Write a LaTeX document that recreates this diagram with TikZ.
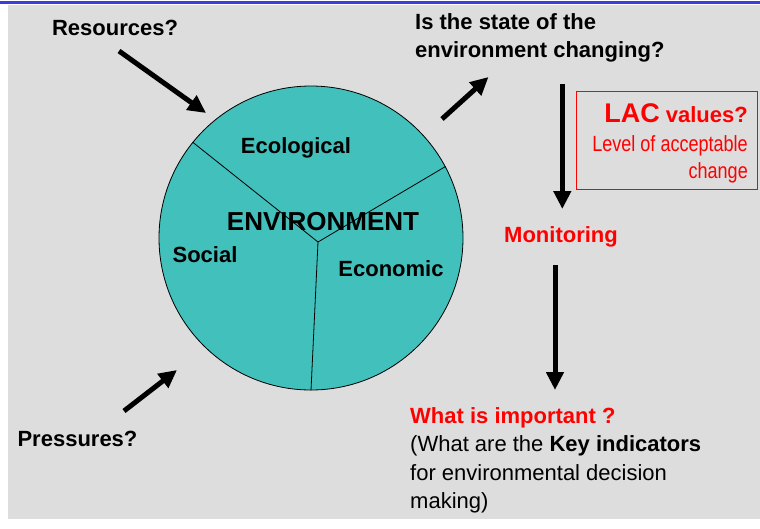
\documentclass[tikz,border=0pt]{standalone}
\usepackage{fontspec}
\setmainfont{Liberation Sans}
\newfontfamily\narrowfont[FakeStretch=0.82]{Liberation Sans}
\usetikzlibrary{arrows.meta}
\definecolor{bgrey}{HTML}{DDDDDD}
\definecolor{teal1}{HTML}{41C0BC}
\definecolor{topblue}{HTML}{3C3CDC}
\tikzset{
  bigarrow/.style={line width=5pt,-{Triangle[length=18pt,width=17pt]}},
  lbl/.style={inner sep=0pt,font=\fontsize{22}{28.3}\selectfont\bfseries},
  plain/.style={inner sep=0pt,font=\fontsize{22}{28.3}\selectfont}
}
\begin{document}
\begin{tikzpicture}[x=1pt,y=-1pt]
\useasboundingbox (0,0) rectangle (760,528);
\fill[white] (0,0) rectangle (760,528);
\fill[bgrey] (8,5) rectangle (760,519);
\fill[topblue] (0,1) rectangle (760,4);
% circle
\node[circle,draw=black,line width=0.8pt,fill=teal1,minimum size=304pt,inner sep=0pt] (env) at (311,238) {};
\coordinate (hub) at (318,242);
\draw[line width=0.8pt] (hub) -- (env.141.5);
\draw[line width=0.8pt] (hub) -- (env.28.6);
\draw[line width=0.8pt] (hub) -- (env.270.3);
\node[lbl,anchor=base] (eco) at (296,153) {Ecological};
\node[lbl,anchor=base,font=\fontsize{26}{30}\selectfont\bfseries] (envt) at (323,230) {ENVIRONMENT};
\node[lbl,anchor=base] (soc) at (205,262.7) {Social};
\node[lbl,anchor=base] (econ) at (391,276.7) {Economic};
% labels
\node[lbl,anchor=base] (res) at (115,35) {Resources?};
\node[lbl,anchor=base] (pres) at (77.5,446) {Pressures?};
\node[lbl,anchor=north west,align=left] (state) at (415,13) {Is the state of the\\environment changing?};
\node[draw=red,line width=0.8pt,anchor=north west,minimum width=181pt,minimum height=98pt,inner sep=0pt] (lacbox) at (576,91) {};
\node[lbl,anchor=base east,text=red] (lac) at (748,122.7) {{\fontsize{27}{30}\selectfont LAC} values?};
\node[inner sep=0pt,anchor=north east,align=right,text=red,font=\fontsize{22}{27.6}\narrowfont] (lev) at (748,135) {Level of acceptable\\change};
\node[lbl,anchor=base,text=red] (mon) at (561,242) {Monitoring};
\node[plain,anchor=north west,align=left] (imp) at (410,407.3) {{\bfseries\color{red}What is important ?}\\(What are the \textbf{Key indicators}\\for environmental decision\\making)};
% arrows
\coordinate (a1s) at (119,51); \coordinate (a1e) at (206,113);
\coordinate (a2s) at (442,119); \coordinate (a2e) at (488.5,77);
\coordinate (a3s) at (562.3,84); \coordinate (a3e) at (562.3,209);
\coordinate (a4s) at (555,265); \coordinate (a4e) at (555,390);
\coordinate (a5s) at (124,411); \coordinate (a5e) at (177,370);
\draw[bigarrow] (a1s) -- (a1e);
\draw[bigarrow] (a2s) -- (a2e);
\draw[bigarrow] (a3s) -- (a3e);
\draw[bigarrow] (a4s) -- (a4e);
\draw[bigarrow] (a5s) -- (a5e);
\end{tikzpicture}
\end{document}
